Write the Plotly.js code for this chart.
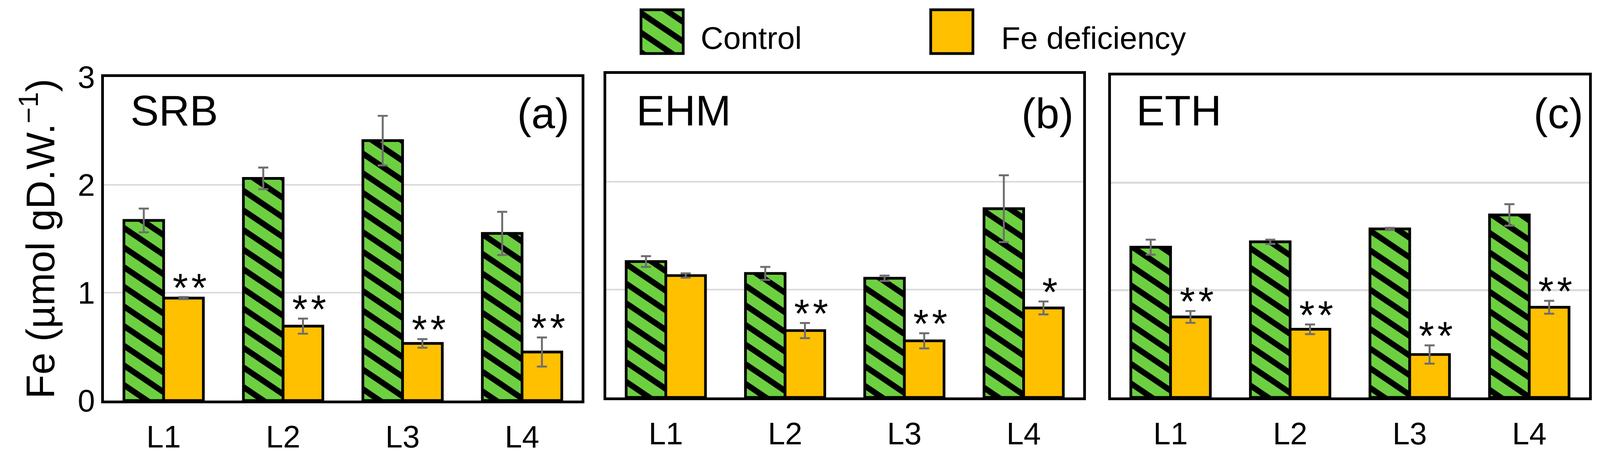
<!DOCTYPE html>
<html><head><meta charset="utf-8">
<script src="https://cdn.plot.ly/plotly-3.0.1.min.js"></script>
<style>html,body{margin:0;padding:0;background:#fff;overflow:hidden}</style>
</head><body><div id="chart"></div>
<script>
// ---------------- data ----------------
const categories = ['L1', 'L2', 'L3', 'L4'];
const panelNames = ['SRB', 'EHM', 'ETH'];
const panelTags = ['(a)', '(b)', '(c)'];
const seriesNames = ['Control', 'Fe deficiency'];
const yTickVals = [0, 1, 2, 3];
const yTickText = ['0', '1', '2', '3'];

const srbControl    = [1.67, 2.06, 2.41, 1.55];
const srbControlErr = [0.11, 0.10, 0.23, 0.20];
const srbFeDef      = [0.95, 0.69, 0.53, 0.45];
const srbFeDefErr   = [0.01, 0.07, 0.04, 0.135];
const srbSig        = ['**', '**', '**', '**'];

const ehmControl    = [1.26, 1.15, 1.105, 1.75];
const ehmControlErr = [0.05, 0.06, 0.025, 0.31];
const ehmFeDef      = [1.13, 0.62, 0.525, 0.83];
const ehmFeDefErr   = [0.02, 0.07, 0.07, 0.06];
const ehmSig        = ['', '**', '**', '*'];

const ethControl    = [1.40, 1.45, 1.57, 1.70];
const ethControlErr = [0.07, 0.02, 0.01, 0.10];
const ethFeDef      = [0.75, 0.635, 0.40, 0.84];
const ethFeDefErr   = [0.055, 0.045, 0.085, 0.06];
const ethSig        = ['**', '**', '**', '**'];

// ---------------- sizing (design space 4131 x 1195, adapted to the real viewport) ----------------
const DW = 4131, DH = 1195;
const W = window.innerWidth || DW, H = window.innerHeight || DH;
const sx = W / DW, sy = H / DH, sf = Math.min(sx, sy);
const X = v => v * sx, Y = v => v * sy, F = v => v * sf;
document.getElementById('chart').style.width = W + 'px';
document.getElementById('chart').style.height = H + 'px';

const ML = 268, MR = 28, MT = 150, MB = 170;
const PW = DW - ML - MR, PH = DH - MT - MB;
const px2x = p => (p - ML) / PW;
const py2y = p => (DH - MB - p) / PH;
const FONT = 'Liberation Sans, Arial, sans-serif';
const GREEN = '#6dd041', ORANGE = '#ffc000', ERRC = '#6e6e6e';
const BARGAP = 0.335;
const HATCH_ROTATE = -11;

const panelBoxes = [ // [left, right, top, bottom] in design px
  [268, 1502, 197, 1025],
  [1565, 2797, 189, 1017],
  [2868, 4103, 193, 1017]
];
const tickShift = [-35, 0, 28];
const nameShift = [67, 76, 64];
const tagShift = [-31, -23, -13];

const panelData = [
  [srbControl, srbControlErr, srbFeDef, srbFeDefErr, srbSig],
  [ehmControl, ehmControlErr, ehmFeDef, ehmFeDefErr, ehmSig],
  [ethControl, ethControlErr, ethFeDef, ethFeDefErr, ethSig]
];

const traces = [];
const annotations = [];
const layout = {
  width: W, height: H,
  margin: {l: X(ML), r: X(MR), t: Y(MT), b: Y(MB), pad: 0, autoexpand: false},
  paper_bgcolor: '#fff', plot_bgcolor: '#fff',
  font: {family: FONT, color: '#000', size: F(80)},
  barmode: 'group', bargap: BARGAP, bargroupgap: 0,
  hovermode: false,
  showlegend: true,
  legend: {
    orientation: 'h', x: px2x(1655), xanchor: 'left', y: py2y(25), yanchor: 'top',
    font: {size: F(81), family: FONT, color: '#000'},
    entrywidth: X(748), entrywidthmode: 'pixels',
    bgcolor: 'rgba(0,0,0,0)', borderwidth: 0, traceorder: 'normal'
  },
  annotations: annotations
};

panelData.forEach((pd, i) => {
  const [ctl, ctlErr, fe, feErr, sig] = pd;
  const ax = i === 0 ? '' : String(i + 1);
  const b = panelBoxes[i];
  layout['xaxis' + ax] = {
    domain: [px2x(b[0]), px2x(b[1])],
    anchor: 'y' + ax,
    type: 'category', categoryorder: 'array', categoryarray: categories,
    range: [-0.5, categories.length - 0.5],
    showline: true, mirror: true, linecolor: '#000', linewidth: F(7),
    ticks: '', showgrid: false, zeroline: false,
    tickfont: {size: F(80), family: FONT, color: '#000'},
    ticklabelstandoff: Y(18), ticklabelshift: X(tickShift[i]),
    fixedrange: true
  };
  layout['yaxis' + ax] = {
    domain: [py2y(b[3]), py2y(b[2])],
    anchor: 'x' + ax,
    range: [0, 3],
    tickvals: yTickVals, ticktext: yTickText,
    showticklabels: i === 0,
    showline: true, mirror: true, linecolor: '#000', linewidth: F(7),
    ticks: '', showgrid: true, gridcolor: '#dadada', gridwidth: F(5), zeroline: false,
    tickfont: {size: F(80), family: FONT, color: '#000'},
    ticklabelstandoff: X(40),
    fixedrange: true
  };
  if (i === 0) {
    layout.yaxis.title = {
      text: 'Fe (µmol gD.W.<sup>−1</sup>)',
      font: {size: F(102), family: FONT, color: '#000'},
      standoff: X(28)
    };
  }
  traces.push({
    type: 'bar', name: seriesNames[0], legendgroup: 'c', showlegend: i === 0,
    x: categories, y: ctl,
    xaxis: 'x' + ax, yaxis: 'y' + ax,
    marker: {
      color: GREEN,
      line: {color: '#000', width: F(7)},
      pattern: {shape: '\\', fgcolor: '#000', bgcolor: GREEN, size: F(42), solidity: 0.36, fillmode: 'replace'}
    },
    error_y: {type: 'data', array: ctlErr, visible: true, color: ERRC, thickness: F(5), width: X(13)}
  });
  traces.push({
    type: 'bar', name: seriesNames[1], legendgroup: 'f', showlegend: i === 0,
    x: categories, y: fe,
    xaxis: 'x' + ax, yaxis: 'y' + ax,
    marker: {color: ORANGE, line: {color: '#000', width: F(7)}},
    error_y: {type: 'data', array: feErr, visible: true, color: ERRC, thickness: F(5), width: X(13)}
  });
  // significance marks above the Fe-deficiency bars
  const offset = (1 - BARGAP) / 4;
  categories.forEach((c, k) => {
    if (!sig[k]) return;
    annotations.push({
      xref: 'x' + ax, yref: 'y' + ax, x: k + offset, y: fe[k] + feErr[k],
      text: sig[k].split('').join('\u200A'), showarrow: false, xanchor: 'center', yanchor: 'middle',
      xshift: X(16), yshift: Y(25),
      font: {size: F(102), family: FONT, color: '#000'}
    });
  });
  annotations.push({
    xref: 'x' + ax + ' domain', yref: 'paper', x: 0, y: py2y(283),
    text: panelNames[i], showarrow: false, xanchor: 'left', yanchor: 'middle',
    xshift: X(nameShift[i]), font: {size: F(110), family: FONT, color: '#000'}
  });
  annotations.push({
    xref: 'x' + ax + ' domain', yref: 'paper', x: 1, y: py2y(290),
    text: panelTags[i], showarrow: false, xanchor: 'right', yanchor: 'middle',
    xshift: X(tagShift[i]), font: {size: F(110), family: FONT, color: '#000'}
  });
});

const legendSpec = [
  {box: [1655, 25, 1764, 137], text: [1809, 125]},
  {box: [2403, 25, 2512, 137], text: [2585, 125]}
];

function fixStyle() {
  const gd = document.getElementById('chart');
  // tilt the hatching a little flatter, as in the reference
  gd.querySelectorAll('pattern').forEach(pt => pt.setAttribute('patternTransform', 'rotate(' + HATCH_ROTATE + ')'));
  const sb = gd.querySelector('.legend .scrollbox');
  if (sb) sb.removeAttribute('clip-path');
  const lg = gd.querySelector('.legend');
  if (lg) lg.removeAttribute('clip-path');
  const barTraces = gd.querySelectorAll('.barlayer .trace');
  const items = gd.querySelectorAll('.legend .traces');
  items.forEach((g, i) => {
    const spec = legendSpec[i];
    if (!spec) return;
    const p = g.querySelector('.legendpoints path');
    if (p) {
      p.removeAttribute('transform');
      const m = p.parentNode.getScreenCTM();
      const lx = v => (X(v) - m.e) / m.a, ly = v => (Y(v) - m.f) / m.d;
      p.setAttribute('d', 'M' + lx(spec.box[0]) + ',' + ly(spec.box[1]) + 'H' + lx(spec.box[2]) +
        'V' + ly(spec.box[3]) + 'H' + lx(spec.box[0]) + 'Z');
      p.style.stroke = '#000';
      p.style.strokeWidth = F(7) + 'px';
      const src = barTraces[i] && barTraces[i].querySelector('path');
      if (src && src.style.fill) p.style.fill = src.style.fill;
    }
    const t = g.querySelector('text.legendtext');
    if (t) {
      const m = t.parentNode.getScreenCTM();
      t.setAttribute('x', (X(spec.text[0]) - m.e) / m.a);
      t.setAttribute('y', (Y(spec.text[1]) - m.f) / m.d);
      t.setAttribute('text-anchor', 'start');
    }
  });
}

Plotly.newPlot('chart', traces, layout, {staticPlot: true, displayModeBar: false}).then(gd => {
  fixStyle();
  gd.on('plotly_afterplot', fixStyle);
});
</script>
</body></html>
